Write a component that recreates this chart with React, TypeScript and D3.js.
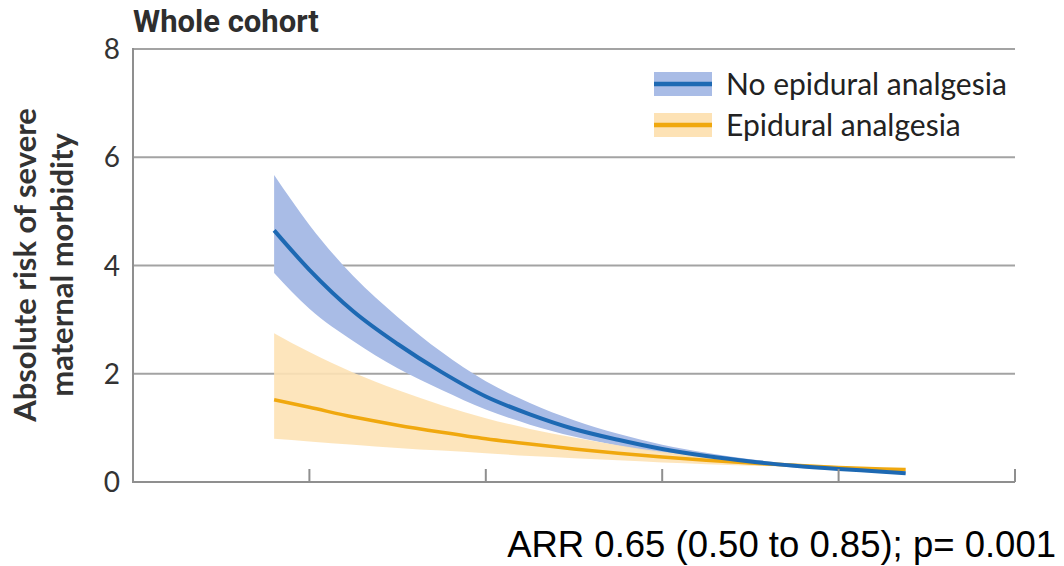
import React from 'react';
import * as d3 from 'd3';

// x positions (arbitrary axis units, unlabelled ticks at 1..5)
const xs = [0.8, 1.0, 1.25, 1.5, 1.75, 2.0, 2.25, 2.5, 2.75, 3.0, 3.25, 3.5, 3.75, 4.0, 4.25, 4.38];

const noEpiMean = [4.65, 3.92, 3.15, 2.55, 2.03, 1.58, 1.25, 0.98, 0.78, 0.61, 0.48, 0.38, 0.3, 0.24, 0.19, 0.16];
const noEpiUpper = [5.67, 4.75, 3.8, 3.05, 2.4, 1.86, 1.46, 1.14, 0.89, 0.69, 0.54, 0.42, 0.33, 0.26, 0.21, 0.18];
const noEpiLower = [3.86, 3.2, 2.6, 2.1, 1.7, 1.34, 1.06, 0.84, 0.67, 0.53, 0.42, 0.34, 0.27, 0.22, 0.17, 0.14];

const epiMean = [1.52, 1.38, 1.2, 1.05, 0.92, 0.8, 0.7, 0.61, 0.53, 0.46, 0.4, 0.35, 0.31, 0.27, 0.24, 0.23];
const epiUpper = [2.75, 2.4, 2.02, 1.7, 1.42, 1.18, 0.98, 0.82, 0.68, 0.56, 0.47, 0.4, 0.34, 0.29, 0.26, 0.25];
const epiLower = [0.8, 0.75, 0.69, 0.63, 0.58, 0.53, 0.48, 0.44, 0.4, 0.36, 0.33, 0.3, 0.28, 0.25, 0.22, 0.21];

const yTicks = [0, 2, 4, 6, 8];
const xTicks = [1, 2, 3, 4, 5];

const seriesNames = ['No epidural analgesia', 'Epidural analgesia'];

const W = 1064;
const H = 566;
const left = 133;
const right = 1015;
const top = 49;
const bottom = 482;

export default function App() {
  const x = d3.scaleLinear().domain([0, 5]).range([left, right]);
  const y = d3.scaleLinear().domain([0, 8]).range([bottom, top]);
  const idx = xs.map((_, i) => i);

  const band = (lo: number[], hi: number[]) =>
    d3.area<number>()
      .x((d) => x(xs[d]))
      .y0((d) => y(lo[d]))
      .y1((d) => y(hi[d]))
      .curve(d3.curveMonotoneX)(idx) || '';

  const line = (vals: number[]) =>
    d3.line<number>()
      .x((d) => x(xs[d]))
      .y((d) => y(vals[d]))
      .curve(d3.curveMonotoneX)(idx) || '';

  const gridColor = '#a3a3a3';
  const series = [
    { name: seriesNames[0], line: '#1d69b3', band: '#a9bce6' },
    { name: seriesNames[1], line: '#f0a80e', band: '#fde2b5' },
  ];

  return (
    <svg width={W} height={H} style={{ position: 'absolute', left: 0, top: 0, background: '#fff' }}>
      {/* title */}
      <text x={133} y={32} fontFamily="Roboto" fontWeight={700} fontSize={31} fill="#2e2e2e">
        Whole cohort
      </text>

      {/* gridlines */}
      {yTicks.filter((t) => t > 0).map((t) => (
        <line key={t} x1={left} x2={right} y1={y(t)} y2={y(t)} stroke={gridColor} strokeWidth={2} />
      ))}

      {/* bands */}
      <path d={band(noEpiLower, noEpiUpper)} fill={series[0].band} />
      <path d={band(epiLower, epiUpper)} fill={series[1].band} fillOpacity={0.9} />

      {/* lines */}
      <path d={line(epiMean)} fill="none" stroke={series[1].line} strokeWidth={3.5} />
      <path d={line(noEpiMean)} fill="none" stroke={series[0].line} strokeWidth={4} />

      {/* axes */}
      <line x1={left} x2={left} y1={top - 1} y2={bottom + 1} stroke="#8f8f8f" strokeWidth={2} />
      <line x1={left} x2={right} y1={bottom} y2={bottom} stroke="#8f8f8f" strokeWidth={2} />
      {xTicks.map((t) => (
        <line key={t} x1={x(t)} x2={x(t)} y1={bottom} y2={bottom - 13} stroke="#8f8f8f" strokeWidth={2} />
      ))}
      {yTicks.map((t) => (
        <text key={t} x={left - 13} y={y(t) + 10} textAnchor="end" fontFamily="Lato" fontSize={28} fill="#333">
          {t}
        </text>
      ))}

      {/* y label */}
      <g transform={`translate(0, 265) rotate(-90)`} fontFamily="Lato" fontWeight={700} fontSize={31} fill="#333" textAnchor="middle">
        <text x={0} y={36}>Absolute risk of severe</text>
        <text x={0} y={73}>maternal morbidity</text>
      </g>

      {/* legend */}
      {series.map((s, i) => (
        <g key={s.name} transform={`translate(654, ${84 + i * 41})`}>
          <rect x={0} y={-12} width={58} height={24} fill={s.band} />
          <line x1={0} x2={58} y1={0} y2={0} stroke={s.line} strokeWidth={4.5} />
          <text x={72} y={11} fontFamily="Lato" fontSize={30} fill="#222">
            {s.name}
          </text>
        </g>
      ))}

      {/* footnote */}
      <text x={1056} y={557} textAnchor="end" fontFamily="Liberation Sans" fontSize={36.5} fill="#000">
        ARR 0.65 (0.50 to 0.85); p= 0.001
      </text>
    </svg>
  );
}
